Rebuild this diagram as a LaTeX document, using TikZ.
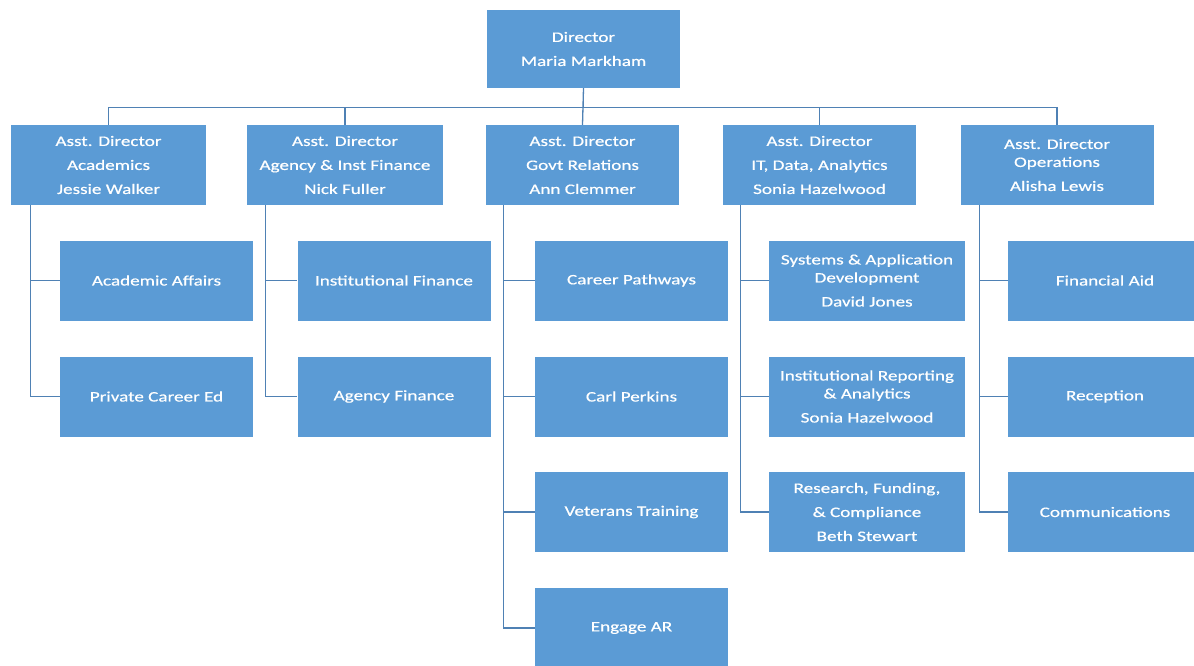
\documentclass[tikz,border=0pt]{standalone}
\usepackage{fontspec}
\setmainfont{Carlito}
\newfontfamily\chartfont[FakeStretch=1.32, FakeBold=0.6]{Carlito}
\definecolor{boxblue}{HTML}{5B9BD5}
\definecolor{linkblue}{HTML}{4F81B4}
\tikzset{
  unit/.style={fill=boxblue, text=white, align=center, inner sep=0pt,
    minimum width=193pt, minimum height=80pt,
    font=\chartfont\fontsize{14.5}{24}\selectfont},
  link/.style={draw=linkblue, line width=1.3pt}
}
\begin{document}
\begin{tikzpicture}[x=1pt,y=-1pt]
      \useasboundingbox (0,0) rectangle (1194,665);
      \clip (0,0) rectangle (1194,665);
      \draw
        (583.5,49) node[unit, minimum height=78pt] (dir){Director\\Maria Markham}
        (108.5,165) node[unit, minimum width=195pt] (ad1){Asst. Director\\Academics\\Jessie Walker}
        (345,165) node[unit, minimum width=196pt] (ad2){Asst. Director\\Agency \& Inst Finance\\Nick Fuller}
        (582.5,165) node[unit] (ad3){Asst. Director\\Govt Relations\\Ann Clemmer}
        (819.5,165) node[unit] (ad4){Asst. Director\\IT, Data, Analytics\\Sonia Hazelwood}
        (1057,165) node[unit] (ad5){Asst. Director\\[-6pt]Operations\\Alisha Lewis};
      \draw
        (156.5,280.5) node[unit] (acad){Academic Affairs}
        (156.5,396.5) node[unit] (pced){Private Career Ed}
        (394,280.5) node[unit] (instf){Institutional Finance}
        (394,396.5) node[unit] (agyf){Agency Finance}
        (631.5,280.5) node[unit] (career){Career Pathways}
        (631.5,396.5) node[unit] (perkins){Carl Perkins}
        (631.5,512) node[unit] (vets){Veterans Training}
        (631.5,628) node[unit] (engage){Engage AR}
        (867,280.5) node[unit, minimum width=196pt] (sysdev){Systems \& Application\\[-6pt]Development\\David Jones}
        (867,396.5) node[unit, minimum width=196pt] (report){Institutional Reporting\\[-6pt]\& Analytics\\Sonia Hazelwood}
        (867,512) node[unit, minimum width=196pt] (research){Research, Funding,\\\& Compliance\\Beth Stewart}
        (1105,280.5) node[unit, minimum width=194pt] (finaid){Financial Aid}
        (1105,396.5) node[unit, minimum width=194pt] (recep){Reception}
        (1105,512) node[unit, minimum width=194pt] (comms){Communications};
      \begin{scope}[link]
        \draw (dir.south) -- ++(0,19) -| (ad1.north);
        \draw (dir.south) -- ++(0,19) -| (ad2.north);
        \draw (dir.south) -- (ad3.north);
        \draw (dir.south) -- ++(0,19) -| (ad4.north);
        \draw (dir.south) -- ++(0,19) -| (ad5.north);
        \draw ([xshift=20pt]ad1.south west) |- (acad.west);
        \draw ([xshift=20pt]ad1.south west) |- (pced.west);
        \draw ([xshift=19pt]ad2.south west) |- (instf.west);
        \draw ([xshift=19pt]ad2.south west) |- (agyf.west);
        \draw ([xshift=18pt]ad3.south west) |- (career.west);
        \draw ([xshift=18pt]ad3.south west) |- (perkins.west);
        \draw ([xshift=18pt]ad3.south west) |- (vets.west);
        \draw ([xshift=18pt]ad3.south west) |- (engage.west);
        \draw ([xshift=18pt]ad4.south west) |- (sysdev.west);
        \draw ([xshift=18pt]ad4.south west) |- (report.west);
        \draw ([xshift=18pt]ad4.south west) |- (research.west);
        \draw ([xshift=19pt]ad5.south west) |- (finaid.west);
        \draw ([xshift=19pt]ad5.south west) |- (recep.west);
        \draw ([xshift=19pt]ad5.south west) |- (comms.west);
      \end{scope}
    \end{tikzpicture}
\end{document}
